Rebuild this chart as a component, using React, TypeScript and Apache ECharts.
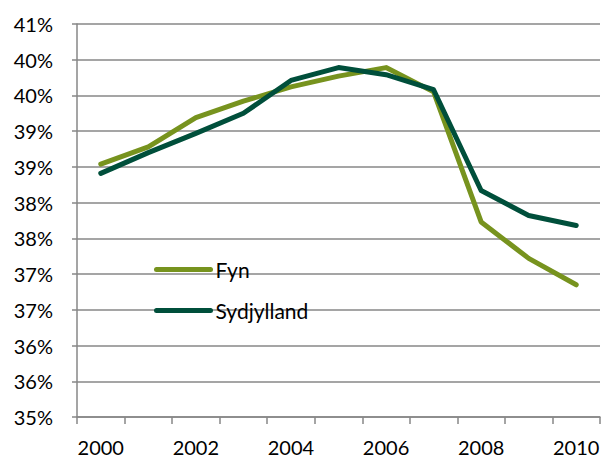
import React, { useEffect, useRef } from "react";
import * as echarts from "echarts";

const years = ["2000", "2001", "2002", "2003", "2004", "2005", "2006", "2007", "2008", "2009", "2010"];
const fyn = [38.54, 38.78, 39.19, 39.42, 39.62, 39.77, 39.89, 39.55, 37.73, 37.22, 36.85];
const sydjylland = [38.41, 38.7, 38.97, 39.25, 39.71, 39.89, 39.79, 39.58, 38.17, 37.82, 37.68];
const seriesNames = ["Fyn", "Sydjylland"];

const FONT = "Lato";
const GRID_COLOR = "#878787";

export default function App() {
  const ref = useRef<HTMLDivElement>(null);
  useEffect(() => {
    if (!ref.current) return;
    const chart = echarts.init(ref.current, null, { renderer: "svg" });
    chart.setOption({
      animation: false,
      backgroundColor: "#ffffff",
      grid: { left: 77, right: 6, top: 24, bottom: 41, containLabel: false },
      legend: {
        orient: "vertical",
        left: 154,
        top: 259,
        padding: 0,
        itemWidth: 54,
        itemHeight: 20,
        itemGap: 20,
        data: seriesNames,
        textStyle: { fontFamily: FONT, fontSize: 21, lineHeight: 20, color: "#000" },
        itemStyle: { opacity: 0 },
        lineStyle: { width: 5, cap: "round", opacity: 1 },
      },
      xAxis: {
        type: "category",
        data: years,
        boundaryGap: true,
        axisLine: { lineStyle: { color: GRID_COLOR, width: 1.5 } },
        axisTick: { show: true, interval: 0, length: 7, lineStyle: { color: GRID_COLOR, width: 1.5 } },
        axisLabel: { interval: 1, margin: 20, fontFamily: FONT, fontSize: 20, color: "#000" },
        splitLine: { show: false },
      },
      yAxis: {
        type: "value",
        min: 35,
        max: 40.5,
        interval: 0.5,
        axisLine: { show: true, lineStyle: { color: GRID_COLOR, width: 1.5 } },
        axisTick: { show: true, length: 5, lineStyle: { color: GRID_COLOR, width: 1.5 } },
        axisLabel: {
          margin: 24,
          fontFamily: FONT,
          fontSize: 20,
          color: "#000",
          formatter: (v: number) => Math.round(v) + "%",
        },
        splitLine: { show: true, lineStyle: { color: GRID_COLOR, width: 1.5 } },
      },
      series: [
        {
          name: seriesNames[0],
          type: "line",
          data: fyn,
          symbol: "none",
          lineStyle: { color: "#77931E", width: 5, cap: "round", join: "round" },
          itemStyle: { color: "#77931E" },
        },
        {
          name: seriesNames[1],
          type: "line",
          data: sydjylland,
          symbol: "none",
          lineStyle: { color: "#004F3B", width: 5, cap: "round", join: "round" },
          itemStyle: { color: "#004F3B" },
        },
      ],
    });
    return () => chart.dispose();
  }, []);
  return (
    <div
      ref={ref}
      style={{ position: "absolute", left: 0, top: 0, width: 606, height: 458 }}
    />
  );
}
